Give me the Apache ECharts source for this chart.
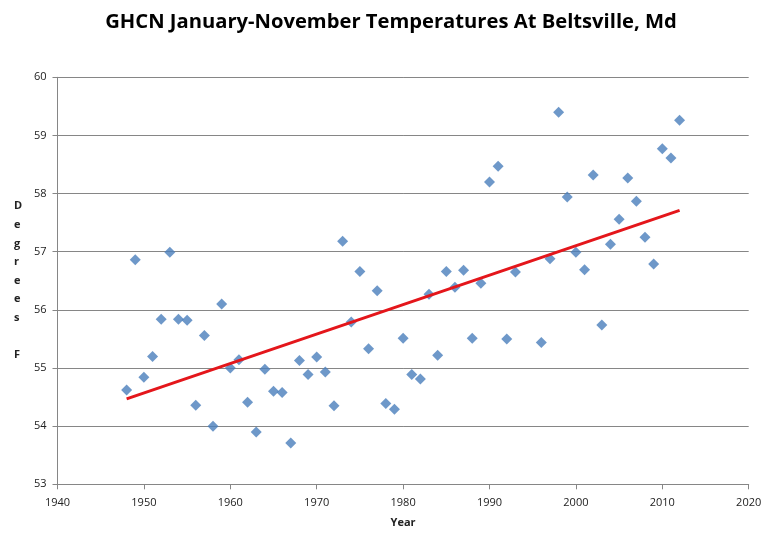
<!DOCTYPE html>
<html><head><meta charset="utf-8">
<script src="https://cdn.jsdelivr.net/npm/echarts@6/dist/echarts.min.js"></script>
<style>html,body{margin:0;padding:0;background:#fff}#c{width:772px;height:541px}</style>
</head><body><div id="c"></div>
<script>
const years = [1948,1949,1950,1951,1952,1953,1954,1955,1956,1957,1958,1959,1960,1961,1962,1963,1964,1965,1966,1967,1968,1969,1970,1971,1972,1973,1974,1975,1976,1977,1978,1979,1980,1981,1982,1983,1984,1985,1986,1987,1988,1989,1990,1991,1992,1993,1996,1997,1998,1999,2000,2001,2002,2003,2004,2005,2006,2007,2008,2009,2010,2011,2012];
const temps = [54.62,56.86,54.84,55.20,55.84,56.99,55.84,55.82,54.36,55.56,54.00,56.10,55.00,55.14,54.41,53.90,54.98,54.60,54.58,53.71,55.13,54.89,55.19,54.93,54.35,57.18,55.79,56.66,55.33,56.33,54.39,54.29,55.51,54.89,54.81,56.27,55.22,56.66,56.39,56.68,55.51,56.46,58.20,58.47,55.50,56.65,55.44,56.88,59.40,57.94,56.99,56.69,58.32,55.74,57.13,57.56,58.27,57.87,57.25,56.79,58.77,58.61,59.26];
const trendYears = [1948, 2012];
const trendTemps = [54.47, 57.71];
const titleText = 'GHCN January-November Temperatures At Beltsville, Md';

const chart = echarts.init(document.getElementById('c'));
chart.setOption({
  animation: false,
  backgroundColor: '#fff',
  title: {
    text: titleText, left: 386, textAlign: 'center', top: 7,
    textStyle: {fontFamily: 'Open Sans', fontWeight: 'bold', fontSize: 20.2, color: '#000'}
  },
  grid: {left: 57.5, right: 23.3, top: 77.3, bottom: 56.7},
  xAxis: {
    type: 'value', min: 1940, max: 2020, interval: 10,
    name: 'Year', nameLocation: 'middle', nameGap: 33,
    nameTextStyle: {fontFamily: 'Open Sans', fontWeight: 'bold', fontSize: 11, color: '#222'},
    axisLine: {show: true, lineStyle: {color: '#868686', width: 1}},
    axisTick: {show: true, length: 5, lineStyle: {color: '#868686'}},
    axisLabel: {fontFamily: 'Open Sans', fontSize: 11, color: '#222', margin: 13, formatter: v => String(v)},
    splitLine: {show: false}
  },
  yAxis: {
    type: 'value', min: 53, max: 60, interval: 1,
    axisLine: {show: true, lineStyle: {color: '#868686', width: 1}},
    axisTick: {show: true, length: 5, lineStyle: {color: '#868686'}},
    axisLabel: {fontFamily: 'Open Sans', fontSize: 11, color: '#222', margin: 11},
    splitLine: {show: true, lineStyle: {color: '#868686', width: 1}}
  },
  graphic: [{
    type: 'text', left: 14, top: 197,
    style: {text: 'D\ne\ng\nr\ne\ne\ns\n\nF', fontFamily: 'Open Sans', fontWeight: 'bold', fontSize: 11, lineHeight: 18.6, fill: '#222', align: 'center'}
  }],
  series: [{
    type: 'scatter', data: years.map((y, i) => [y, temps[i]]),
    symbol: 'diamond', symbolSize: 11,
    itemStyle: {color: '#4a7ebb'}
  }, {
    type: 'line', data: trendYears.map((y, i) => [y, trendTemps[i]]),
    symbol: 'none', lineStyle: {color: '#e4161b', width: 3}
  }]
});
</script></body></html>
